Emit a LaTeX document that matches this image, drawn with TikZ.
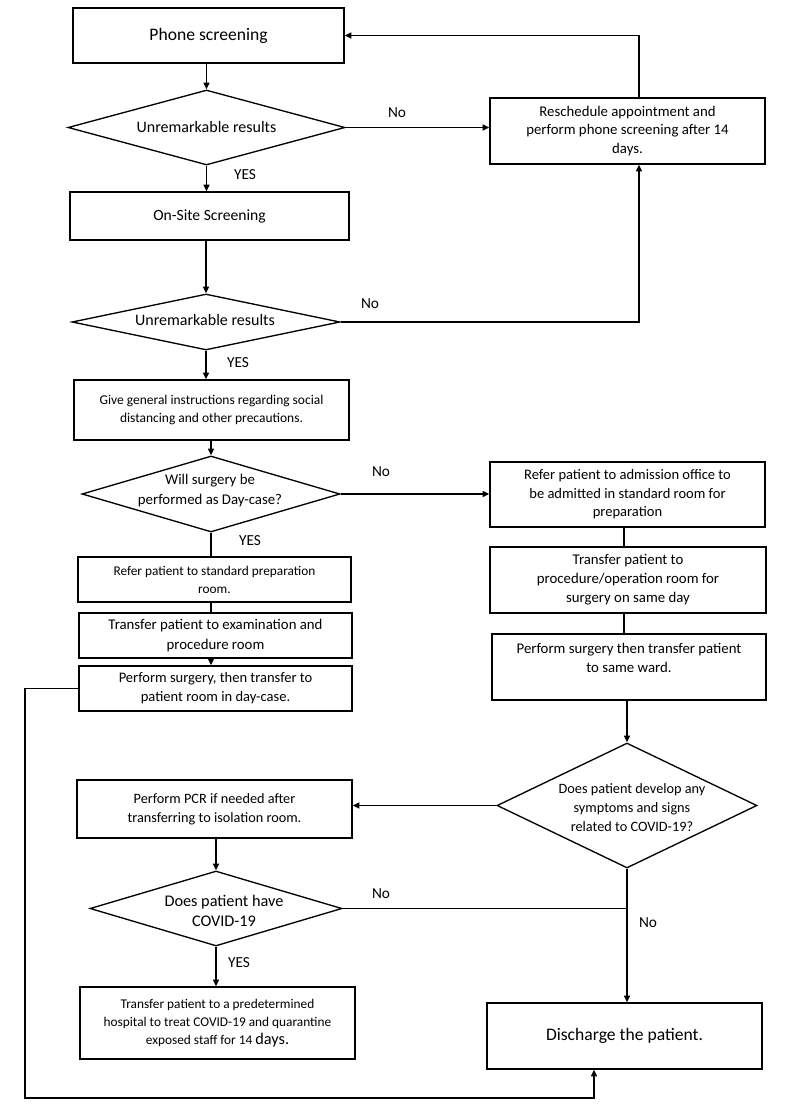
\documentclass[tikz,border=0pt]{standalone}
\usepackage{fontspec}
\setmainfont{Carlito}
\usetikzlibrary{shapes.geometric,arrows.meta}
\newcommand{\fsz}[2]{\fontsize{#1}{#2}\selectfont}
\tikzset{
  bx/.style 2 args={draw, line width=1pt, rectangle, inner sep=0pt, align=center,
    minimum width=#1*0.75pt, minimum height=#2*0.75pt},
  dia/.style 2 args={draw, line width=1pt, diamond, inner sep=0pt,
    minimum width=#1*0.75pt, minimum height=#2*0.75pt},
  txt/.style={align=center, inner sep=0pt},
  lbl/.style={inner sep=0pt, font=\fsz{11.5}{13}},
  ln/.style={line width=1pt},
  arr/.style={line width=1pt, -{Triangle[length=5pt,width=4.5pt]}},
}
\begin{document}
\begin{tikzpicture}[x=0.75pt,y=-0.75pt]
\useasboundingbox (0,0) rectangle (800,1109);
% boxes
\node[bx={271}{55}, font=\fsz{13.2}{15}] (phone) at (208.5,35.5) {Phone screening};
\node[dia={277}{75}] (d1) at (206.5,127.5) {};
\node[txt, font=\fsz{12}{14}] at (d1) {Unremarkable results};
\node[bx={279}{48}, font=\fsz{11.7}{14}] (onsite) at (209.5,216) {On-Site Screening};
\node[bx={275}{66}, font=\fsz{11.1}{14.2}] (resch) at (627.5,131) {Reschedule appointment and\\perform phone screening after 14\\days.};
\node[dia={268}{56}] (d2) at (206,322) {};
\node[txt, font=\fsz{12}{14}] at (205,320) {Unremarkable results};
\node[bx={275}{60}, font=\fsz{10.1}{13.5}] (give) at (211.5,410) {Give general instructions regarding social\\distancing and other precautions.};
\node[dia={258}{76}] (d3) at (211,494) {};
\node[txt, font=\fsz{11.1}{15}] at (210,491) {Will surgery be\\performed as Day-case?};
\node[bx={275}{65}, font=\fsz{10.9}{13.9}] (adm) at (627.5,494.5) {Refer patient to admission office to\\be admitted in standard room for\\preparation};
\node[bx={273}{45}, font=\fsz{10}{13.5}] (refer) at (214.5,579.5) {Refer patient to standard preparation\\room.};
\node[bx={273}{45}, font=\fsz{11.1}{15}] (trans) at (215.5,635.5) {Transfer patient to examination and\\procedure room};
\node[bx={273}{45}, font=\fsz{10.9}{14.2}] (perf1) at (215.5,688.5) {Perform surgery, then transfer to\\patient room in day-case.};
\node[bx={276}{66}, font=\fsz{11.1}{14.2}] (tr2) at (628,580) {Transfer patient to\\procedure/operation room for\\surgery on same day};
\node[bx={274}{66}, font=\fsz{11.1}{14.2}] (p2) at (629,667) {Perform surgery then transfer patient\\to same ward.\\\mbox{}};
\node[dia={260}{125}] (d4) at (627,805.5) {};
\node[txt, font=\fsz{10.7}{14.2}] at (632,808) {Does patient develop any\\symptoms and signs\\related to COVID-19?};
\node[bx={275}{58}, font=\fsz{10.7}{14.2}] (pcr) at (214.5,809) {Perform PCR if needed after\\transferring to isolation room.};
\node[dia={252}{75}] (d5) at (216,908.5) {};
\node[txt, font=\fsz{12.2}{15}] at (224,911) {Does patient have\\COVID-19};
\node[bx={275}{72}, font=\fsz{10}{13.7}] (hosp) at (217.5,1023) {Transfer patient to a predetermined\\hospital to treat COVID-19 and quarantine\\exposed staff for 14 {\fsz{12.2}{13.7}days.}};
\node[bx={275}{66}, font=\fsz{13.2}{15}] (dc) at (624.5,1036) {Discharge the patient.};
% labels
\node[lbl] (l1) at (397,113) {No};
\node[lbl] (l2) at (245,175) {YES};
\node[lbl] (l3) at (370,304) {No};
\node[lbl] (l4) at (238,363) {YES};
\node[lbl] (l5) at (381,472) {No};
\node[lbl] (l6) at (250,541) {YES};
\node[lbl] (l7) at (381,894) {No};
\node[lbl] (l8) at (648,923) {No};
\node[lbl] (l9) at (239,963) {YES};
% coordinates
\coordinate (r1) at (639,35);
\coordinate (lp) at (25,1098);
\coordinate (lq) at (594,1098);
% connectors
\draw[arr] (phone.south -| d1.north) -- (d1.north);
\draw[arr] (d1.east) -- (d1.east -| resch.west);
\draw[arr] (resch.north -| r1) |- (phone.east);
\draw[arr] (d1.south) -- (d1.south |- onsite.north);
\draw[arr] (onsite.south -| d2.north) -- (d2.north);
\draw[arr] (d2.east) -| (resch.south -| r1);
\draw[arr] (d2.south) -- (d2.south |- give.north);
\draw[arr] (give.south -| d3.north) -- (d3.north);
\draw[arr] (d3.east) -- (d3.east -| adm.west);
\draw[ln] (d3.south) -- (d3.south |- refer.north);
\draw[ln] (refer.south -| d3.south) -- (trans.north -| d3.south);
\draw[arr] (trans.south -| d3.south) -- (perf1.north -| d3.south);
\draw[ln] (adm.south -| p2.south) ++(-5,0) coordinate (rc) -- (rc |- tr2.north);
\draw[ln] (tr2.south -| rc) -- (p2.north -| rc);
\draw[arr] (p2.south -| d4.north) -- (d4.north);
\draw[arr] (d4.west) -- (d4.west -| pcr.east);
\draw[arr] (pcr.south -| d5.north) -- (d5.north);
\draw[ln] (d5.east) -- (d5.east -| d4.south);
\draw[arr] (d4.south) -- (d4.south |- dc.north);
\draw[arr] (d5.south) -- (d5.south |- hosp.north);
\draw[arr] (perf1.west) -| (lp) -- (lq) -- (lq |- dc.south);
\end{tikzpicture}
\end{document}
